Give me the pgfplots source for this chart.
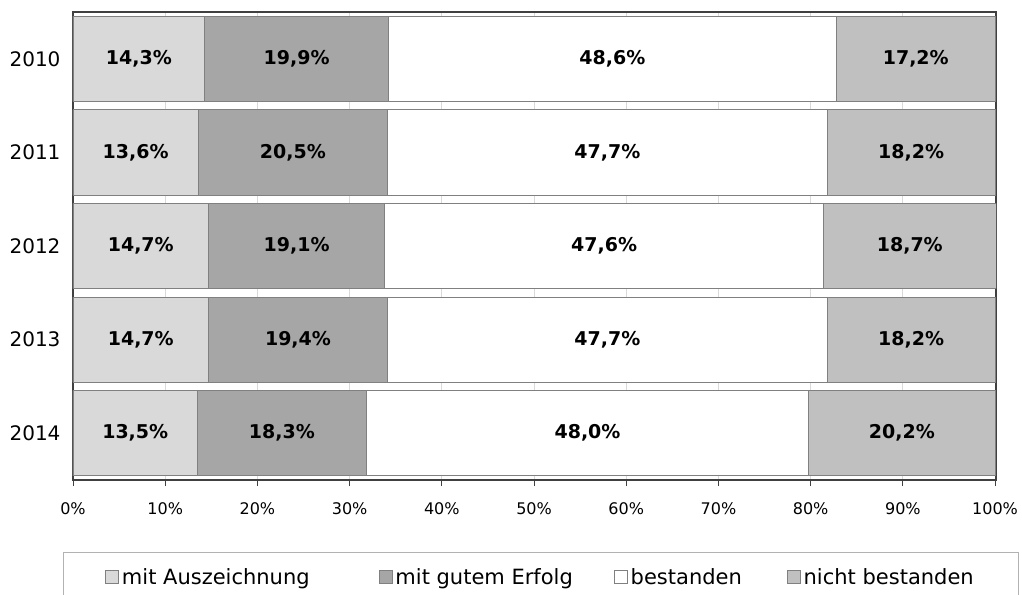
\documentclass[border=0pt]{standalone}
\usepackage{fontspec}
\setmainfont{DejaVu Sans}
\usepackage{pgfplots}
\pgfplotsset{compat=1.18}
\definecolor{c1}{HTML}{D9D9D9}
\definecolor{c2}{HTML}{A6A6A6}
\definecolor{c3}{HTML}{FFFFFF}
\definecolor{c4}{HTML}{C0C0C0}
\definecolor{edge}{HTML}{808080}
\definecolor{frame}{HTML}{404040}
\begin{document}
\begin{tikzpicture}
\begin{axis}[
  name=ax,
  scale only axis, width=923pt, height=468pt,
  xbar stacked, bar width=0.91,
  xmin=0, xmax=100.1, ymin=-0.5, ymax=4.5, y dir=reverse,
  ytick={0,...,4}, yticklabels={2010,2011,2012,2013,2014},
  xtick={0,10,...,100}, xticklabel={\pgfmathprintnumber{\tick}\%},
  /pgf/number format/assume math mode=true,
  xmajorgrids, grid style={draw=black!15, line width=0.8pt},
  axis line style={draw=frame, line width=1.6pt},
  tick style={draw=frame, line width=0.8pt},
  xtick pos=bottom, xtick align=outside, major tick length=6pt,
  ytick style={draw=none},
  yticklabel style={font=\fontsize{20}{24}\selectfont, xshift=-9pt},
  xticklabel style={font=\fontsize{16}{19}\selectfont, yshift=-13pt},
  every axis plot/.append style={draw=edge, line width=0.8pt},
  visualization depends on=rawx\as\rawx,
  nodes near coords={\pgfmathprintnumber[fixed,fixed zerofill,precision=1,use comma]{\rawx}\%},
  every node near coord/.append style={font=\fontsize{19}{23}\bfseries\selectfont, anchor=center, text=black},
  legend columns=4,
  legend image code/.code={\draw[#1] (0pt,-6pt) rectangle (13pt,7pt);},
  legend style={at={(0.507,-0.1538)}, anchor=north, draw=black!30, line width=0.8pt,
    font=\fontsize{21}{25}\selectfont, inner xsep=42pt, inner ysep=14pt,
    nodes={inner xsep=3pt, inner ysep=2pt},
    /tikz/column 2/.style={column sep=66pt},
    /tikz/column 4/.style={column sep=38pt},
    /tikz/column 6/.style={column sep=42pt}},
]
\addplot[fill=c1] coordinates {(14.3,0) (13.6,1) (14.7,2) (14.7,3) (13.5,4)};
\addplot[fill=c2] coordinates {(19.9,0) (20.5,1) (19.1,2) (19.4,3) (18.3,4)};
\addplot[fill=c3] coordinates {(48.6,0) (47.7,1) (47.6,2) (47.7,3) (48.0,4)};
\addplot[fill=c4] coordinates {(17.2,0) (18.2,1) (18.7,2) (18.2,3) (20.2,4)};
\legend{mit Auszeichnung, mit gutem Erfolg, bestanden, nicht bestanden}
\end{axis}
\pgfresetboundingbox
\useasboundingbox ([xshift=-73pt,yshift=-115pt]ax.south west) rectangle ([xshift=26pt,yshift=12pt]ax.north east);
\end{tikzpicture}
\end{document}
